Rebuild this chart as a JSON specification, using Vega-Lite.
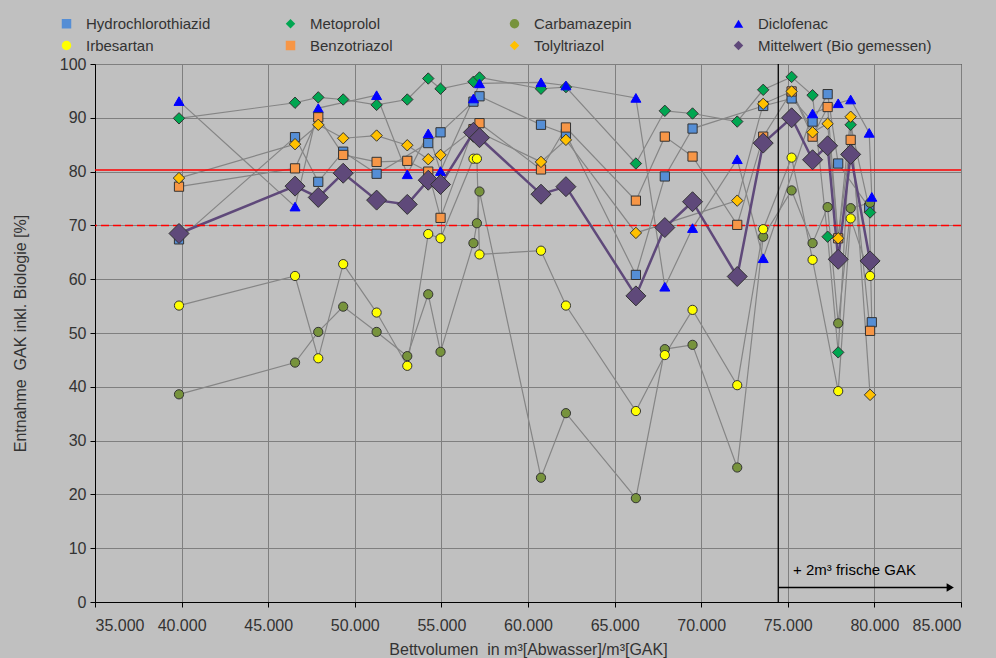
{
  "$schema": "https://vega.github.io/schema/vega-lite/v6.json",
  "width": 866,
  "height": 538,
  "autosize": {"type": "none"},
  "padding": {"left": 95, "top": 64, "right": 35, "bottom": 56},
  "background": "#c0c0c0",
  "config": {
    "font": "Liberation Sans",
    "view": {"stroke": "#000000", "strokeWidth": 1, "fill": "#c0c0c0"},
    "axis": {
      "gridColor": "#7f7f7f", "gridWidth": 1, "gridOpacity": 1,
      "domainColor": "#000000", "tickColor": "#000000", "tickSize": 5,
      "labelColor": "#333333", "labelFontSize": 16, "labelFont": "Liberation Sans",
      "titleColor": "#333333", "titleFontSize": 16, "titleFont": "Liberation Sans", "titleFontWeight": "normal"
    },
    "legend": {
      "labelFont": "Liberation Sans", "labelFontSize": 15, "labelColor": "#333333"
    }
  },
  "datasets": {
    "pts": [
      {"s":"Hydrochlorothiazid","x":39850,"y":67.4},{"s":"Hydrochlorothiazid","x":46550,"y":86.4},{"s":"Hydrochlorothiazid","x":47890,"y":78.1},{"s":"Hydrochlorothiazid","x":49330,"y":83.7},{"s":"Hydrochlorothiazid","x":51260,"y":79.6},{"s":"Hydrochlorothiazid","x":54240,"y":85.3},{"s":"Hydrochlorothiazid","x":54950,"y":87.3},{"s":"Hydrochlorothiazid","x":56850,"y":93.0},{"s":"Hydrochlorothiazid","x":57200,"y":94.0},{"s":"Hydrochlorothiazid","x":60750,"y":88.7},{"s":"Hydrochlorothiazid","x":62190,"y":87.0},{"s":"Hydrochlorothiazid","x":66230,"y":60.8},{"s":"Hydrochlorothiazid","x":67900,"y":79.1},{"s":"Hydrochlorothiazid","x":69500,"y":88.0},{"s":"Hydrochlorothiazid","x":73580,"y":92.2},{"s":"Hydrochlorothiazid","x":75220,"y":93.6},{"s":"Hydrochlorothiazid","x":76430,"y":89.3},{"s":"Hydrochlorothiazid","x":77300,"y":94.4},{"s":"Hydrochlorothiazid","x":77910,"y":81.5},{"s":"Hydrochlorothiazid","x":79700,"y":73.3},{"s":"Hydrochlorothiazid","x":79850,"y":52.0},
      {"s":"Metoprolol","x":39850,"y":89.9},{"s":"Metoprolol","x":46550,"y":92.8},{"s":"Metoprolol","x":47890,"y":93.8},{"s":"Metoprolol","x":49330,"y":93.4},{"s":"Metoprolol","x":51260,"y":92.4},{"s":"Metoprolol","x":53030,"y":93.4},{"s":"Metoprolol","x":54240,"y":97.3},{"s":"Metoprolol","x":54950,"y":95.4},{"s":"Metoprolol","x":56850,"y":96.7},{"s":"Metoprolol","x":57200,"y":97.5},{"s":"Metoprolol","x":60750,"y":95.4},{"s":"Metoprolol","x":62190,"y":95.7},{"s":"Metoprolol","x":66230,"y":81.5},{"s":"Metoprolol","x":67900,"y":91.3},{"s":"Metoprolol","x":69500,"y":90.8},{"s":"Metoprolol","x":72080,"y":89.3},{"s":"Metoprolol","x":73580,"y":95.2},{"s":"Metoprolol","x":75220,"y":97.6},{"s":"Metoprolol","x":76430,"y":94.2},{"s":"Metoprolol","x":77300,"y":67.9},{"s":"Metoprolol","x":77910,"y":46.4},{"s":"Metoprolol","x":78630,"y":88.7},{"s":"Metoprolol","x":79750,"y":72.4},
      {"s":"Carbamazepin","x":39850,"y":38.6},{"s":"Carbamazepin","x":46550,"y":44.5},{"s":"Carbamazepin","x":47890,"y":50.2},{"s":"Carbamazepin","x":49330,"y":54.9},{"s":"Carbamazepin","x":51260,"y":50.2},{"s":"Carbamazepin","x":53030,"y":45.7},{"s":"Carbamazepin","x":54240,"y":57.2},{"s":"Carbamazepin","x":54950,"y":46.5},{"s":"Carbamazepin","x":56850,"y":66.7},{"s":"Carbamazepin","x":57050,"y":70.4},{"s":"Carbamazepin","x":57200,"y":76.3},{"s":"Carbamazepin","x":60750,"y":23.1},{"s":"Carbamazepin","x":62190,"y":35.1},{"s":"Carbamazepin","x":66230,"y":19.3},{"s":"Carbamazepin","x":67900,"y":47.0},{"s":"Carbamazepin","x":69500,"y":47.8},{"s":"Carbamazepin","x":72080,"y":25.0},{"s":"Carbamazepin","x":73580,"y":67.9},{"s":"Carbamazepin","x":75220,"y":76.5},{"s":"Carbamazepin","x":76430,"y":66.7},{"s":"Carbamazepin","x":77300,"y":73.4},{"s":"Carbamazepin","x":77910,"y":51.8},{"s":"Carbamazepin","x":78630,"y":73.2},{"s":"Carbamazepin","x":79750,"y":74.2},
      {"s":"Diclofenac","x":39850,"y":93.1},{"s":"Diclofenac","x":46550,"y":73.5},{"s":"Diclofenac","x":47890,"y":91.8},{"s":"Diclofenac","x":51260,"y":94.2},{"s":"Diclofenac","x":53030,"y":79.5},{"s":"Diclofenac","x":54240,"y":87.1},{"s":"Diclofenac","x":54950,"y":80.1},{"s":"Diclofenac","x":56850,"y":93.6},{"s":"Diclofenac","x":57200,"y":96.4},{"s":"Diclofenac","x":60750,"y":96.6},{"s":"Diclofenac","x":62190,"y":96.0},{"s":"Diclofenac","x":66230,"y":93.7},{"s":"Diclofenac","x":67900,"y":58.6},{"s":"Diclofenac","x":69500,"y":69.5},{"s":"Diclofenac","x":72080,"y":82.3},{"s":"Diclofenac","x":73580,"y":63.9},{"s":"Diclofenac","x":76430,"y":90.8},{"s":"Diclofenac","x":77910,"y":92.7},{"s":"Diclofenac","x":78630,"y":93.4},{"s":"Diclofenac","x":79700,"y":87.2},{"s":"Diclofenac","x":79850,"y":75.3},
      {"s":"Irbesartan","x":39850,"y":55.1},{"s":"Irbesartan","x":46550,"y":60.6},{"s":"Irbesartan","x":47890,"y":45.3},{"s":"Irbesartan","x":49330,"y":62.8},{"s":"Irbesartan","x":51260,"y":53.8},{"s":"Irbesartan","x":53030,"y":43.9},{"s":"Irbesartan","x":54240,"y":68.4},{"s":"Irbesartan","x":54950,"y":67.6},{"s":"Irbesartan","x":56850,"y":82.4},{"s":"Irbesartan","x":57050,"y":82.4},{"s":"Irbesartan","x":57200,"y":64.6},{"s":"Irbesartan","x":60750,"y":65.3},{"s":"Irbesartan","x":62190,"y":55.1},{"s":"Irbesartan","x":66230,"y":35.5},{"s":"Irbesartan","x":67900,"y":45.9},{"s":"Irbesartan","x":69500,"y":54.3},{"s":"Irbesartan","x":72080,"y":40.3},{"s":"Irbesartan","x":73580,"y":69.3},{"s":"Irbesartan","x":75220,"y":82.6},{"s":"Irbesartan","x":76430,"y":63.6},{"s":"Irbesartan","x":77910,"y":39.2},{"s":"Irbesartan","x":78630,"y":71.3},{"s":"Irbesartan","x":79750,"y":60.6},
      {"s":"Benzotriazol","x":39850,"y":77.2},{"s":"Benzotriazol","x":46550,"y":80.6},{"s":"Benzotriazol","x":47890,"y":90.1},{"s":"Benzotriazol","x":49330,"y":83.1},{"s":"Benzotriazol","x":51260,"y":81.8},{"s":"Benzotriazol","x":53030,"y":82.0},{"s":"Benzotriazol","x":54240,"y":80.0},{"s":"Benzotriazol","x":54950,"y":71.4},{"s":"Benzotriazol","x":56850,"y":87.9},{"s":"Benzotriazol","x":57200,"y":89.0},{"s":"Benzotriazol","x":60750,"y":80.4},{"s":"Benzotriazol","x":62190,"y":88.2},{"s":"Benzotriazol","x":66230,"y":74.6},{"s":"Benzotriazol","x":67900,"y":86.5},{"s":"Benzotriazol","x":69500,"y":82.8},{"s":"Benzotriazol","x":72080,"y":70.1},{"s":"Benzotriazol","x":73580,"y":86.5},{"s":"Benzotriazol","x":75220,"y":94.9},{"s":"Benzotriazol","x":76430,"y":86.5},{"s":"Benzotriazol","x":77300,"y":92.0},{"s":"Benzotriazol","x":77910,"y":67.6},{"s":"Benzotriazol","x":78630,"y":85.9},{"s":"Benzotriazol","x":79750,"y":50.4},
      {"s":"Tolyltriazol","x":39850,"y":78.8},{"s":"Tolyltriazol","x":46550,"y":85.1},{"s":"Tolyltriazol","x":47890,"y":88.7},{"s":"Tolyltriazol","x":49330,"y":86.2},{"s":"Tolyltriazol","x":51260,"y":86.7},{"s":"Tolyltriazol","x":53030,"y":84.9},{"s":"Tolyltriazol","x":54240,"y":82.3},{"s":"Tolyltriazol","x":54950,"y":83.1},{"s":"Tolyltriazol","x":56850,"y":87.8},{"s":"Tolyltriazol","x":60750,"y":81.8},{"s":"Tolyltriazol","x":62190,"y":85.9},{"s":"Tolyltriazol","x":66230,"y":68.6},{"s":"Tolyltriazol","x":72080,"y":74.6},{"s":"Tolyltriazol","x":73580,"y":92.6},{"s":"Tolyltriazol","x":75220,"y":94.9},{"s":"Tolyltriazol","x":76430,"y":87.3},{"s":"Tolyltriazol","x":77300,"y":88.9},{"s":"Tolyltriazol","x":77910,"y":67.6},{"s":"Tolyltriazol","x":78630,"y":90.2},{"s":"Tolyltriazol","x":79750,"y":38.5},
      {"s":"Mittelwert (Bio gemessen)","x":39850,"y":68.5},{"s":"Mittelwert (Bio gemessen)","x":46550,"y":77.3},{"s":"Mittelwert (Bio gemessen)","x":47890,"y":75.2},{"s":"Mittelwert (Bio gemessen)","x":49330,"y":79.7},{"s":"Mittelwert (Bio gemessen)","x":51260,"y":74.7},{"s":"Mittelwert (Bio gemessen)","x":53030,"y":73.9},{"s":"Mittelwert (Bio gemessen)","x":54240,"y":78.4},{"s":"Mittelwert (Bio gemessen)","x":54950,"y":77.6},{"s":"Mittelwert (Bio gemessen)","x":56850,"y":87.3},{"s":"Mittelwert (Bio gemessen)","x":57200,"y":86.3},{"s":"Mittelwert (Bio gemessen)","x":60750,"y":75.8},{"s":"Mittelwert (Bio gemessen)","x":62190,"y":77.2},{"s":"Mittelwert (Bio gemessen)","x":66230,"y":56.9},{"s":"Mittelwert (Bio gemessen)","x":67900,"y":69.6},{"s":"Mittelwert (Bio gemessen)","x":69500,"y":74.4},{"s":"Mittelwert (Bio gemessen)","x":72080,"y":60.5},{"s":"Mittelwert (Bio gemessen)","x":73580,"y":85.3},{"s":"Mittelwert (Bio gemessen)","x":75220,"y":90.0},{"s":"Mittelwert (Bio gemessen)","x":76430,"y":82.2},{"s":"Mittelwert (Bio gemessen)","x":77300,"y":84.8},{"s":"Mittelwert (Bio gemessen)","x":77910,"y":63.7},{"s":"Mittelwert (Bio gemessen)","x":78630,"y":83.2},{"s":"Mittelwert (Bio gemessen)","x":79750,"y":63.4}
    ],
    "solid": [{"y": 80.3}],
    "dashed": [{"y": 70}],
    "vline": [{"x": 74450}],
    "arrow": [{"x": 74450, "x2": 84450, "y": 2.7}],
    "head": [{"x": 84380, "y": 2.7}],
    "note": [{"x": 75300, "y": 5.9, "label": "+ 2m³ frische GAK"}]
  },
  "layer": [
    {
      "data": {"name": "pts"},
      "transform": [{"filter": "datum.s !== 'Mittelwert (Bio gemessen)'"}],
      "mark": {"type": "line", "color": "#858585", "strokeWidth": 1.2},
      "encoding": {
        "x": {"field": "x", "type": "quantitative", "scale": {"domain": [35000, 85000], "nice": false},
          "axis": {"values": [35000,40000,45000,50000,55000,60000,65000,70000,75000,80000,85000],
            "labelExpr": "replace(format(datum.value, ','), ',', '.')",
            "title": "Bettvolumen\u00a0 in m³[Abwasser]/m³[GAK]", "titlePadding": 8, "labelPadding": 10}},
        "y": {"field": "y", "type": "quantitative", "scale": {"domain": [0, 100], "nice": false},
          "axis": {"values": [0,10,20,30,40,50,60,70,80,90,100], "title": "Entnahme\u00a0 GAK inkl. Biologie [%]", "titlePadding": 31, "labelPadding": 4}},
        "detail": {"field": "s"}
      }
    },
    {
      "data": {"name": "pts"},
      "transform": [{"filter": "datum.s === 'Mittelwert (Bio gemessen)'"}],
      "mark": {"type": "line", "color": "#5f497a", "strokeWidth": 2.5},
      "encoding": {
        "x": {"field": "x", "type": "quantitative"},
        "y": {"field": "y", "type": "quantitative"}
      }
    },
    {
      "data": {"name": "solid"},
      "mark": {"type": "rule", "color": "#ff0000", "strokeWidth": 1.3},
      "encoding": {"y": {"field": "y", "type": "quantitative"}}
    },
    {
      "data": {"name": "dashed"},
      "mark": {"type": "rule", "color": "#ff0000", "strokeWidth": 1.5, "strokeDash": [8, 4]},
      "encoding": {"y": {"field": "y", "type": "quantitative"}}
    },
    {
      "data": {"name": "vline"},
      "mark": {"type": "rule", "color": "#000000", "strokeWidth": 1.3},
      "encoding": {"x": {"field": "x", "type": "quantitative"}}
    },
    {
      "data": {"name": "arrow"},
      "mark": {"type": "rule", "color": "#000000", "strokeWidth": 1.5},
      "encoding": {
        "x": {"field": "x", "type": "quantitative"},
        "x2": {"field": "x2"},
        "y": {"field": "y", "type": "quantitative"}
      }
    },
    {
      "data": {"name": "head"},
      "mark": {"type": "point", "shape": "triangle-right", "filled": true, "color": "#000000", "size": 70, "opacity": 1},
      "encoding": {
        "x": {"field": "x", "type": "quantitative"},
        "y": {"field": "y", "type": "quantitative"}
      }
    },
    {
      "data": {"name": "note"},
      "mark": {"type": "text", "align": "left", "baseline": "middle", "fontSize": 15, "font": "Liberation Sans", "color": "#000000"},
      "encoding": {
        "x": {"field": "x", "type": "quantitative"},
        "y": {"field": "y", "type": "quantitative"},
        "text": {"field": "label"}
      }
    },
    {
      "data": {"name": "pts"},
      "mark": {"type": "point", "filled": true, "opacity": 1, "strokeWidth": 1},
      "encoding": {
        "x": {"field": "x", "type": "quantitative"},
        "y": {"field": "y", "type": "quantitative"},
        "fill": {"field": "s", "type": "nominal",
          "scale": {"domain": ["Hydrochlorothiazid","Metoprolol","Carbamazepin","Diclofenac","Irbesartan","Benzotriazol","Tolyltriazol","Mittelwert (Bio gemessen)"],
            "range": ["#558ed5","#00a651","#77933c","#0000ff","#ffff00","#f79646","#ffc000","#5f497a"]},
          "legend": {"title": null, "orient": "none", "legendX": -36, "legendY": -48, "direction": "horizontal", "columns": 4,
            "gridAlign": "all", "columnPadding": 23, "rowPadding": 6, "symbolSize": 90, "labelOffset": 12,
            "symbolStrokeColor": "#333333", "symbolStrokeWidth": 1, "labelLimit": 300}},
        "shape": {"field": "s", "type": "nominal",
          "scale": {"domain": ["Hydrochlorothiazid","Metoprolol","Carbamazepin","Diclofenac","Irbesartan","Benzotriazol","Tolyltriazol","Mittelwert (Bio gemessen)"],
            "range": ["square","diamond","circle","triangle-up","circle","square","diamond","diamond"]},
          "legend": {"title": null, "orient": "none", "legendX": -36, "legendY": -48, "direction": "horizontal", "columns": 4,
            "gridAlign": "all", "columnPadding": 23, "rowPadding": 6, "symbolSize": 90, "labelOffset": 12,
            "symbolStrokeColor": "#333333", "symbolStrokeWidth": 1, "labelLimit": 300}},
        "stroke": {"condition": {"test": "datum.s === 'Diclofenac'", "value": "#0000ff"}, "value": "#333333"},
        "size": {"condition": [
            {"test": "datum.s === 'Mittelwert (Bio gemessen)'", "value": 400},
            {"test": "datum.s === 'Metoprolol' || datum.s === 'Tolyltriazol'", "value": 130},
            {"test": "datum.s === 'Diclofenac'", "value": 100}
          ], "value": 85}
      }
    }
  ]
}
